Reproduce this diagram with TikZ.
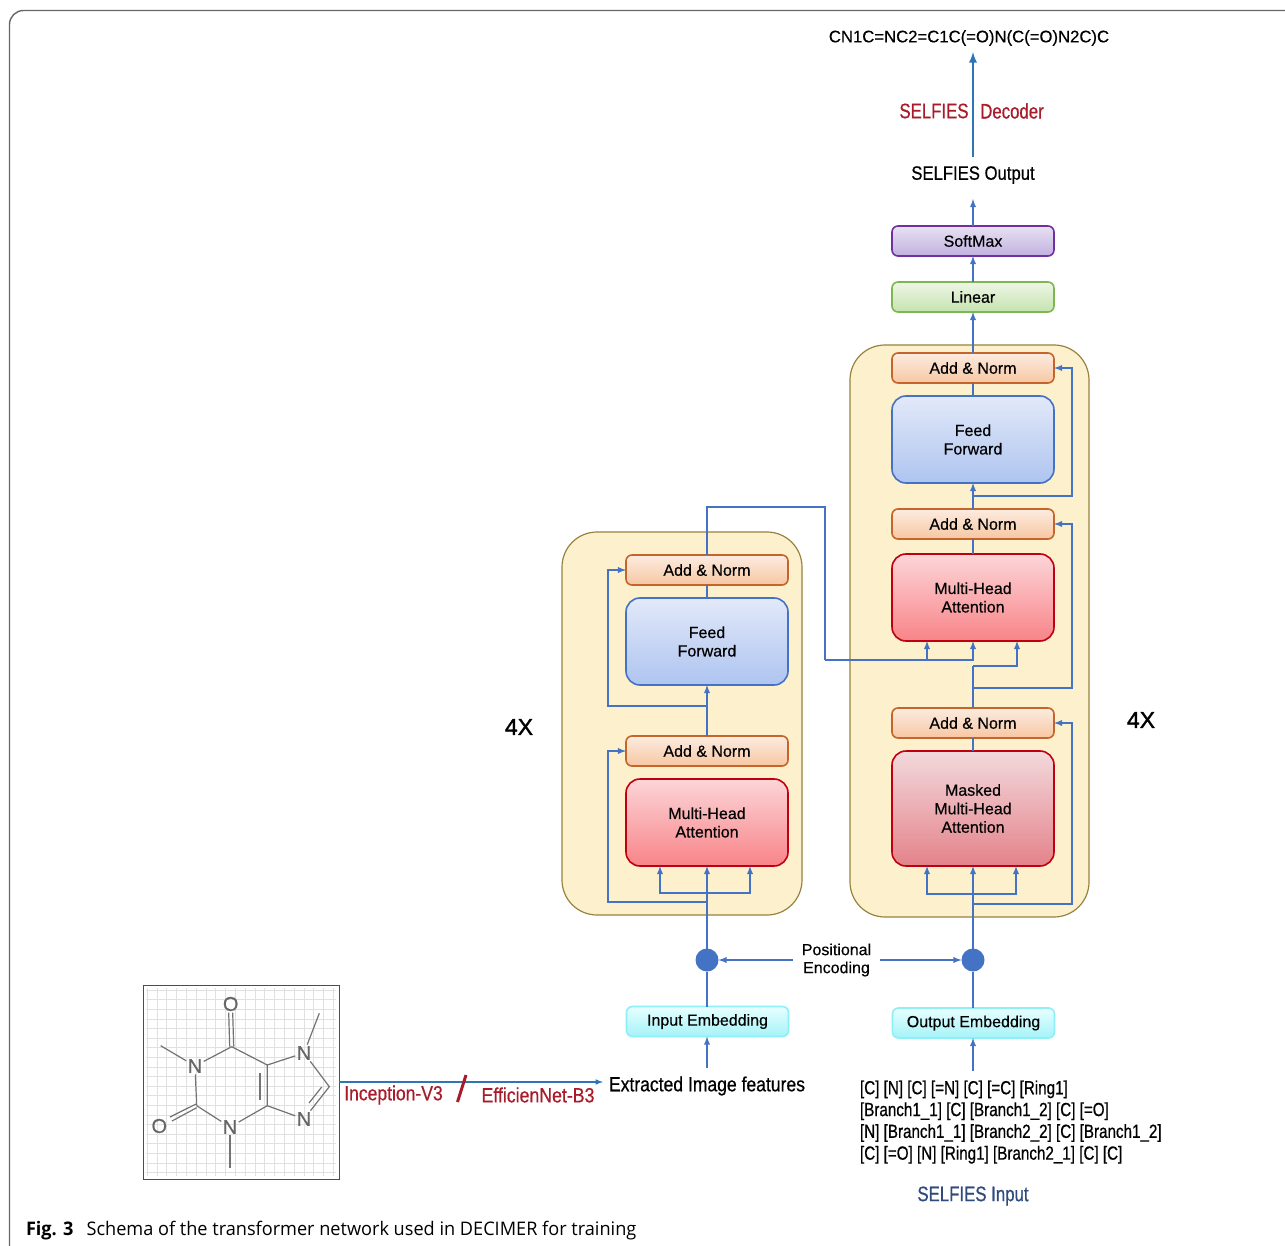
\documentclass[tikz,border=0pt]{standalone}
\usepackage{fontspec}
\setmainfont{Liberation Sans}[RawFeature={embolden=0.4}]
\newfontfamily\narrowfont[FakeStretch=0.86,RawFeature={embolden=0.6}]{Liberation Sans}
\newfontfamily\tightfont[FakeStretch=0.8,RawFeature={embolden=0.6}]{Liberation Sans}
\newfontfamily\medfont[RawFeature={embolden=1.5}]{Liberation Sans}
\newfontfamily\capfont[FakeStretch=0.97]{Open Sans}
\usetikzlibrary{arrows,positioning,calc}

\definecolor{wirecol}{HTML}{4472C4}
\definecolor{upcol}{HTML}{2E75B6}
\definecolor{redlabel}{HTML}{A81C2A}
\definecolor{navylabel}{HTML}{2F4A7C}

\tikzset{
  wire/.style={draw=wirecol, line width=1.8pt},
  arrow/.style={wire, -latex},
  block/.style={rounded corners=6pt, line width=1.6pt, minimum width=162pt, inner sep=0pt, outer sep=0pt, align=center, font=\fontsize{16}{18.5}\selectfont},
  addnorm/.style={block, minimum height=30pt, draw={rgb,255:red,197;green,101;blue,43}, top color={rgb,255:red,252;green,236;blue,224}, bottom color={rgb,255:red,247;green,199;blue,163}},
  feedbox/.style={block, rounded corners=14pt, minimum height=87pt, draw=wirecol, top color={rgb,255:red,226;green,233;blue,249}, bottom color={rgb,255:red,174;green,196;blue,240}},
  headbox/.style={block, rounded corners=14pt, minimum height=87pt, draw={rgb,255:red,192;green,0;blue,16}, top color={rgb,255:red,252;green,213;blue,216}, bottom color={rgb,255:red,248;green,132;blue,136}},
  maskbox/.style={headbox, minimum height=115pt, top color={rgb,255:red,242;green,217;blue,220}, bottom color={rgb,255:red,228;green,130;blue,138}},
  embed/.style={block, minimum height=30pt, draw={rgb,255:red,140;green,240;blue,246}, top color={rgb,255:red,232;green,255;blue,255}, bottom color={rgb,255:red,165;green,243;blue,248}},
  linearbox/.style={block, minimum height=30pt, draw={rgb,255:red,125;green,182;blue,83}, top color={rgb,255:red,238;green,246;blue,230}, bottom color={rgb,255:red,197;green,227;blue,174}},
  softbox/.style={block, minimum height=30pt, draw={rgb,255:red,112;green,48;blue,160}, top color={rgb,255:red,232;green,226;blue,242}, bottom color={rgb,255:red,193;green,176;blue,224}},
  container/.style={rounded corners=35pt, line width=1.2pt, draw={rgb,255:red,151;green,130;blue,63}, fill={rgb,255:red,253;green,240;blue,204}, inner sep=0pt, outer sep=0pt},
  dot/.style={circle, fill=wirecol, minimum size=23pt, inner sep=0pt, outer sep=0pt},
  plain/.style={inner sep=0pt, outer sep=0pt, align=center},
  atom/.style={inner sep=1.5pt, outer sep=0pt, text=black!60, font=\fontsize{20}{20}\selectfont},
  bond/.style={draw=black!55, line width=1.2pt},
}

\begin{document}
\begin{tikzpicture}[x=1pt,y=-1pt]
        \useasboundingbox (0,0) rectangle (1285,1246);
        %% page frame
        \draw[black!60, line width=1.4pt, rounded corners=14pt] (1285,10.5) -- (9.5,10.5) -- (9.5,1262);

        %% the two stacks
        \node (contL)[container, minimum width=240pt, minimum height=383pt] at (682,723.5) {};
        \node (contR)[container, minimum width=239pt, minimum height=572pt] at (969.5,631) {};

        \node (anL1)[addnorm] at (707,570) {Add \& Norm};
        \node (ffL)[feedbox, below=13pt of anL1] {Feed\\Forward};
        \node (anL2)[addnorm] at (707,751) {Add \& Norm};
        \node (mhL)[headbox, below=13pt of anL2] {Multi-Head\\Attention};

        \node (anR1)[addnorm] at (973,368) {Add \& Norm};
        \node (ffR)[feedbox, below=13pt of anR1] {Feed\\Forward};
        \node (anR2)[addnorm] at (973,524) {Add \& Norm};
        \node (mhR)[headbox, below=15pt of anR2] {Multi-Head\\Attention};
        \node (anR3)[addnorm] at (973,723) {Add \& Norm};
        \node (maskR)[maskbox, below=13pt of anR3] {Masked\\Multi-Head\\Attention};

        \node (linear)[linearbox] at (973,297) {Linear};
        \node (softmax)[softbox] at (973,241) {SoftMax};

        \node (dotL)[dot] at (707,960) {};
        \node (dotR)[dot] at (973,960) {};
        \node (posenc)[plain, inner xsep=9pt, font=\fontsize{16}{18}\selectfont] at (836.5,960) {Positional\\Encoding};
        \node (inEmb)[embed] at (707.5,1021.5) {Input Embedding};
        \node (outEmb)[embed] at (973.5,1023) {Output Embedding};

        \node (feat)[plain, inner xsep=6pt, minimum height=36pt, font=\narrowfont\fontsize{20.4}{22}\selectfont] at (707,1086) {Extracted Image features};
        \node (selfIn)[plain, inner ysep=10pt, anchor=north west, align=left, font=\tightfont\fontsize{19}{21.8}\selectfont] at (860,1070.5) {{[C] [N] [C] [=N] [C] [=C] [Ring1]}\\
        {[Branch1\_1] [C] [Branch1\_2] [C] [=O]}\\
        {[N] [Branch1\_1] [Branch2\_2] [C] [Branch1\_2]}\\
        {[C] [=O] [N] [Ring1] [Branch2\_1] [C] [C]}};
        \node (selfName)[plain, text=navylabel, font=\tightfont\fontsize{21}{22}\selectfont] at (973,1196) {SELFIES Input};
        \node (selfOut)[plain, minimum height=32pt, font=\narrowfont\fontsize{19.4}{22}\selectfont] at (973,175) {SELFIES Output};
        \node (smiles)[plain, minimum height=28pt, font=\fontsize{16.7}{20}\selectfont] at (969,38) {CN1C=NC2=C1C(=O)N(C(=O)N2C)C};
        \node (decA)[plain, text=redlabel, font=\tightfont\fontsize{21}{22}\selectfont] at (934,111) {SELFIES};
        \node (decB)[plain, text=redlabel, font=\tightfont\fontsize{21}{22}\selectfont] at (1012,111) {Decoder};
        \node (fourL)[plain, font=\medfont\fontsize{23}{25}\selectfont] at (519,727) {4X};
        \node (fourR)[plain, font=\medfont\fontsize{23}{25}\selectfont] at (1141,720) {4X};
        \node (incep)[plain, text=redlabel, font=\narrowfont\fontsize{20.4}{22}\selectfont] at (393.5,1095) {Inception-V3};
        \node (effic)[plain, text=redlabel, font=\narrowfont\fontsize{20.6}{22}\selectfont] at (538,1095) {EfficienNet-B3};
        \node (caption)[plain, anchor=base west, font=\capfont\fontsize{18.7}{20}\selectfont] at (26,1235) {\textbf{Fig. 3}\hspace{13pt}Schema of the transformer network used in DECIMER for training};

        %% molecule picture
        \node (mol)[draw=black!70, fill=white, line width=1pt, minimum width=196pt, minimum height=194pt, inner sep=0pt, outer sep=0pt] at (241,1082) {};
        \foreach \gx in {0,...,19}
          \draw[black!12, line width=.6pt] (147+\gx*9.8,988) -- (147+\gx*9.8,1176);
        \foreach \gy in {0,...,19}
          \draw[black!12, line width=.6pt] (146,990+\gy*9.6) -- (336,990+\gy*9.6);
        \node (o1)[atom] at (230.7,1004) {O};
        \node (o2)[atom] at (159.3,1126) {O};
        \node (n1)[atom] at (195,1066) {N};
        \node (n3)[atom] at (230,1127) {N};
        \node (n7)[atom] at (304,1053) {N};
        \node (n9)[atom] at (304,1119) {N};
        \coordinate (c6) at (231.7,1046.7);
        \coordinate (c2) at (196.7,1105.7);
        \coordinate (c4) at (267.3,1105.7);
        \coordinate (c5) at (267.3,1065);
        \coordinate (c8) at (329.3,1086.7);
        \coordinate (me1) at (160.7,1045.7);
        \coordinate (me3) at (230,1167.7);
        \coordinate (me7) at (319.3,1013.3);
        \draw[bond] (me1) -- (n1) -- (c2);
        \draw[bond] (n1) -- (c6) -- (c5) -- (c4) -- (n3) -- (c2);
        \draw[bond] (n3) -- (me3);
        \draw[bond] (c5) -- (n7) -- (c8) -- (n9) -- (c4);
        \draw[bond] (n7) -- (me7);
        \draw[bond] ([xshift=-2pt]c6) -- ([xshift=-2pt]o1.south);
        \draw[bond] ([xshift=2pt]c6) -- ([xshift=2pt]o1.south);
        \draw[bond] ([yshift=2pt]c2) -- (170,1117);
        \draw[bond] ([yshift=-2pt]c2) -- (172,1121);
        \draw[bond] (260,1073) -- (260,1100);
        \draw[bond] (321.7,1087) -- (309,1103);

        %% left stack wiring
        \coordinate (tapL1) at (707,706);
        \coordinate (tapL2) at (707,902);
        \coordinate (fanL) at (707,893);
        \coordinate (crossTop) at (825,507);
        \coordinate (crossLow) at (825,660);
        \draw[wire] (inEmb.north -| dotL) -- (dotL);
        \draw[arrow] (dotL) -- (mhL.south);
        \draw[arrow] (fanL) -| ([xshift=-47pt]mhL.south);
        \draw[arrow] (fanL) -| ([xshift=43pt]mhL.south);
        \draw[arrow] (tapL2) -- +(-99,0) |- (anL2.west);
        \draw[arrow] (anL2.north) -- (ffL.south);
        \draw[arrow] (tapL1) -- +(-99,0) |- (anL1.west);
        \draw[wire] (ffL.north) -- (anL1.south);
        \draw[wire] (anL1.north) |- (crossTop) -- (crossLow);
        \draw[arrow] (crossLow) -| ([xshift=-46pt]mhR.south);
        \draw[arrow] (crossLow) -| (mhR.south);

        %% right stack wiring
        \coordinate (tapR1) at (973,904);
        \coordinate (fanR) at (973,894);
        \coordinate (tapR2) at (973,688);
        \coordinate (tapR3) at (973,666);
        \coordinate (tapR4) at (973,496);
        \draw[wire] (outEmb.north -| dotR) -- (dotR);
        \draw[arrow] (dotR) -- (maskR.south);
        \draw[arrow] (fanR) -| ([xshift=-46pt]maskR.south);
        \draw[arrow] (fanR) -| ([xshift=43pt]maskR.south);
        \draw[arrow] (tapR1) -- +(99,0) |- (anR3.east);
        \draw[wire] (maskR.north) -- (anR3.south);
        \draw[wire] (anR3.north) -- (tapR3);
        \draw[arrow] (tapR3) -| ([xshift=44pt]mhR.south);
        \draw[arrow] (tapR2) -- +(99,0) |- (anR2.east);
        \draw[wire] (mhR.north) -- (anR2.south);
        \draw[arrow] (anR2.north) -- (ffR.south);
        \draw[arrow] (tapR4) -- +(99,0) |- (anR1.east);
        \draw[wire] (ffR.north) -- (anR1.south);
        \draw[arrow] (anR1.north) -- (linear.south);
        \draw[arrow] (linear.north) -- (softmax.south);
        \draw[arrow, shorten >=8pt] (softmax.north) -- (softmax.north |- selfOut.south);
        \draw[draw=upcol, line width=2.6pt, -latex] ([yshift=2pt]selfOut.north) -- (selfOut.north |- smiles.south);

        %% positional encoding and inputs
        \draw[arrow] (posenc.west) -- (dotL);
        \draw[arrow] (posenc.east) -- (dotR);
        \draw[arrow] (feat.north) -- (feat.north |- inEmb.south);
        \draw[arrow] (dotR |- selfIn.north) -- (dotR |- outEmb.south);
        \draw[draw=upcol, line width=1.5pt, -latex] (mol.east) -- (mol.east -| feat.west);
        \draw[redlabel, line width=3pt] (466,1075) -- (457.5,1102);
\end{tikzpicture}
\end{document}
